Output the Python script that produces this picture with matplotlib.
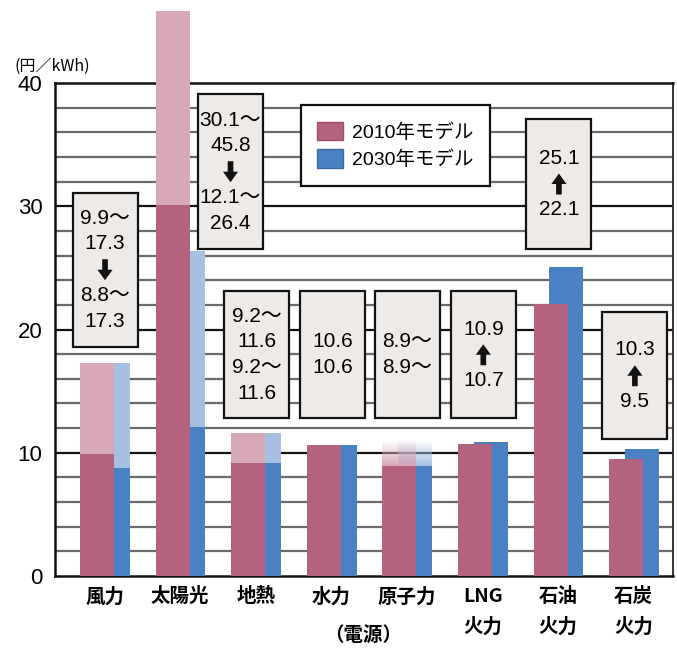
import matplotlib.pyplot as plt
from matplotlib import font_manager
from matplotlib.patches import Rectangle, Patch, FancyArrow

# 電源別の発電コスト (円/kWh)
sources = ['風力', '太陽光', '地熱', '水力', '原子力', 'LNG\n火力', '石油\n火力', '石炭\n火力']
low_2010 = [9.9, 30.1, 9.2, 10.6, 8.9, 10.7, 22.1, 9.5]
high_2010 = [17.3, 45.8, 11.6, 10.6, 8.9, 10.7, 22.1, 9.5]
low_2030 = [8.8, 12.1, 9.2, 10.6, 8.9, 10.9, 25.1, 10.3]
high_2030 = [17.3, 26.4, 11.6, 10.6, 8.9, 10.9, 25.1, 10.3]
open_upper = [False, False, False, False, True, False, False, False]
yticks = [0, 10, 20, 30, 40]

# 注記ボックスの位置 (データ座標)
box_x = [0.106, 1.766, 2.11, 3.115, 4.105, 5.11, 6.11, 7.115]
box_bottom = [18.6, 26.5, 12.8, 12.8, 12.8, 12.8, 26.5, 11.1]
box_top = [31.1, 39.1, 23.1, 23.1, 23.1, 23.1, 37.1, 21.4]

c10_dark, c10_light = '#b3637f', '#d6a8b8'
c30_dark, c30_light = '#4a81c2', '#a6bfe2'
box_face = '#eeeae7'

installed = {f.name for f in font_manager.fontManager.ttflist}
narrow = 'Liberation Sans Narrow' if 'Liberation Sans Narrow' in installed else 'Liberation Sans'
num_font = [narrow, 'Noto Sans CJK JP', 'DejaVu Sans']
jp_font = ['Noto Sans CJK JP', 'DejaVu Sans']

width = 0.45
shift = 0.21
fade = 2.1


def fmt(lo, hi, is_open):
    if is_open:
        return f'{lo}～'
    if lo == hi:
        return f'{lo}'
    return f'{lo}～\n{hi}'


fig = plt.figure(figsize=(6.77, 6.48), dpi=100)
ax = fig.add_axes([0.0812, 0.111, 0.913, 0.761])

x = list(range(len(sources)))

for i in x:
    for lo, hi, dark, light, dx, z in [
            (low_2030[i], high_2030[i], c30_dark, c30_light, shift, 3),
            (low_2010[i], high_2010[i], c10_dark, c10_light, 0, 4)]:
        ax.bar(i + dx, lo, width, color=dark, zorder=z, clip_on=False)
        if hi > lo:
            ax.bar(i + dx, hi - lo, width, bottom=lo, color=light,
                   zorder=z, clip_on=False)
        if open_upper[i]:
            # 上限なし: 上に向かって薄くなる
            n = 24
            for k in range(n):
                ax.bar(i + dx, fade / n, width, bottom=lo + fade * k / n,
                       color=light, alpha=1 - k / n, linewidth=0, zorder=z)

# 横線 (2円ごと、10円ごとは黒)
for v in range(2, 40, 2):
    if v % 10 == 0:
        ax.axhline(v, color='#111111', lw=1.6, zorder=1)
    else:
        ax.axhline(v, color='#6a6a6a', lw=1.6, zorder=1)

# 注記ボックス (矢印は中央の空行に描く)
for i in x:
    a = fmt(low_2010[i], high_2010[i], open_upper[i])
    b = fmt(low_2030[i], high_2030[i], open_upper[i])
    cx = box_x[i]
    cy = (box_bottom[i] + box_top[i]) / 2
    arrow = 0
    if low_2030[i] < low_2010[i]:
        txt = f'{a}\n \n{b}'
        arrow = -1
    elif low_2030[i] > low_2010[i]:
        txt = f'{b}\n \n{a}'
        arrow = 1
    else:
        txt = f'{a}\n{b}'
    ax.add_patch(Rectangle((cx - 0.43, box_bottom[i]), 0.86,
                           box_top[i] - box_bottom[i], facecolor=box_face,
                           edgecolor='#111111', lw=1.6, zorder=6))
    ax.text(cx, cy, txt, ha='center', va='center', fontsize=15,
            family=num_font, linespacing=1.45, zorder=7)
    if arrow:
        ax.add_patch(FancyArrow(cx, cy - arrow * 0.85, 0, arrow * 1.7,
                                width=0.075, head_width=0.2, head_length=0.85,
                                length_includes_head=True, color='#111111',
                                lw=0, zorder=7))

ax.set_xlim(-0.556, 7.62)
ax.set_ylim(0, 40)
ax.set_yticks(yticks)
ax.set_yticklabels([str(v) for v in yticks], family=num_font, fontsize=16)
ax.set_xticks([i + 0.1 for i in x])
ax.set_xticklabels(sources, family=jp_font, fontsize=14, fontweight='bold',
                   linespacing=1.75, va='top')
ax.tick_params(length=0)
ax.tick_params(axis='y', pad=9)
ax.tick_params(axis='x', pad=8)
for s in ['left', 'bottom', 'top']:
    ax.spines[s].set_linewidth(1.8)
    ax.spines[s].set_color('#111111')
ax.spines['right'].set_linewidth(1.4)
ax.spines['right'].set_color('#333333')

leg = ax.legend(handles=[Patch(facecolor=c10_dark, edgecolor='#9a5068'),
                         Patch(facecolor=c30_dark, edgecolor='#3a6aa5')],
                labels=['2010年モデル', '2030年モデル'],
                loc='upper left', bbox_to_anchor=(0.3976, 0.955),
                borderaxespad=0,
                prop={'family': [narrow, 'Noto Sans CJK JP'], 'size': 14},
                fancybox=False, framealpha=1, edgecolor='#111111',
                handlelength=1.3, handleheight=1.1, borderpad=0.85,
                labelspacing=0.4, handletextpad=0.5)
leg.get_frame().set_linewidth(1.6)
leg.set_zorder(8)

fig.text(0.022, 0.897, '(円／kWh)', family=jp_font, fontsize=11.5,
         va='center', ha='left')
fig.text(0.536, 0.02, '（電源）', family=jp_font, fontsize=14,
         fontweight='bold', ha='center', va='center')

fig.savefig('out.png')
